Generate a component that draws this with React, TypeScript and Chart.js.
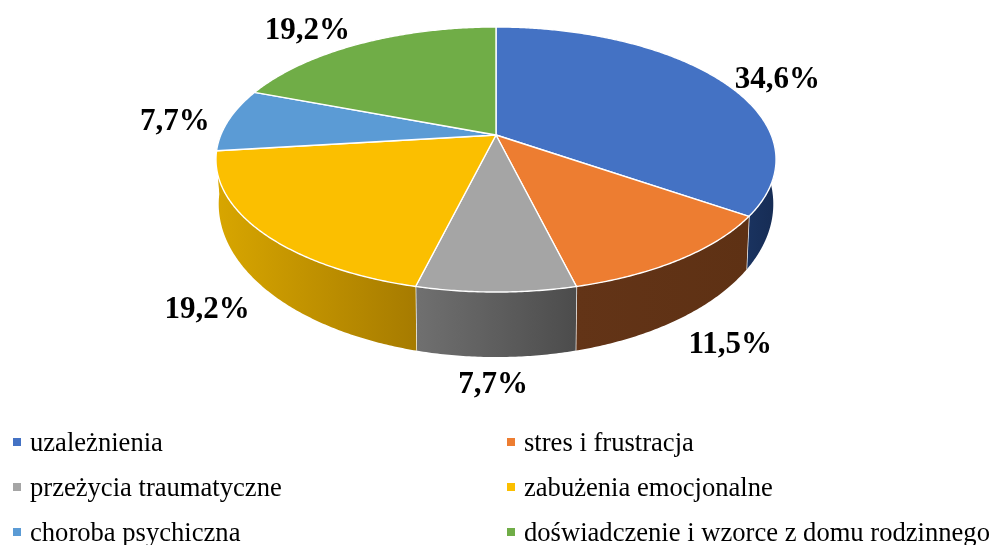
import { useEffect, useRef } from "react";
import { Chart, registerables } from "chart.js";

Chart.register(...registerables);

const categories = [
  "uzależnienia",
  "stres i frustracja",
  "przeżycia traumatyczne",
  "zabużenia emocjonalne",
  "choroba psychiczna",
  "doświadczenie i wzorce z domu rodzinnego",
];
const shares = [34.6, 11.5, 7.7, 19.2, 7.7, 19.2];
const shareLabels = ["34,6%", "11,5%", "7,7%", "19,2%", "7,7%", "19,2%"];
const topColors = ["#4472C4", "#ED7D31", "#A5A5A5", "#FBBF00", "#5B9BD5", "#70AD47"];
const wallLeftColors = ["#1A3360", "#633417", "#707070", "#D8A600", "#D8A600", "#44692A"];
const wallRightColors = ["#162C54", "#5E3114", "#4C4C4C", "#A67B00", "#D8A600", "#44692A"];
const labelOffsets = [
  [57, 0],
  [50, 86],
  [-3, 93],
  [-54, 78],
  [-54, 2],
  [-53, -13],
];

// perspective of the tilted disc
const APEX_X = 496;
const APEX_Y = 135;
const SCALE_X = 275.2;
const SCALE_Y = 128;
const BASE_APEX_Y = 175.7;
const BASE_SCALE_X = 272.5;
const BASE_SCALE_Y = 147.8;
const PERSPECTIVE = 0.185;

const project = (angle: number) => {
  const X = Math.cos(angle);
  const Y = Math.sin(angle);
  const d = 1 - PERSPECTIVE * Y;
  return { x: APEX_X + (SCALE_X * X) / d, y: APEX_Y + (SCALE_Y * Y) / d };
};
const projectBase = (angle: number) => {
  const X = Math.cos(angle);
  const Y = Math.sin(angle);
  const d = 1 - PERSPECTIVE * Y;
  return { x: APEX_X + (BASE_SCALE_X * X) / d, y: BASE_APEX_Y + (BASE_SCALE_Y * Y) / d };
};

const perspectivePie = {
  id: "perspectivePie",
  beforeDatasetsDraw(chart: any) {
    const ctx = chart.ctx as CanvasRenderingContext2D;
    const arcs = chart.getDatasetMeta(0).data as any[];
    const STEP = Math.PI / 360;
    ctx.save();
    ctx.lineJoin = "round";

    arcs.forEach((arc, i) => {
      const p = arc.getProps(["startAngle", "endAngle"], true);
      const s = Math.max(p.startAngle, 0);
      const e = Math.min(p.endAngle, Math.PI);
      if (e <= s) return;
      const top: any[] = [];
      const bottom: any[] = [];
      for (let a = s; a < e; a += STEP) {
        top.push(project(a));
        bottom.push(projectBase(a));
      }
      top.push(project(e));
      bottom.push(projectBase(e));
      const xs = [...top, ...bottom].map((q) => q.x);
      const g = ctx.createLinearGradient(Math.min(...xs), 0, Math.max(...xs), 0);
      g.addColorStop(0, wallLeftColors[i]);
      g.addColorStop(1, wallRightColors[i]);
      ctx.beginPath();
      top.forEach((q, k) => (k ? ctx.lineTo(q.x, q.y) : ctx.moveTo(q.x, q.y)));
      bottom.reverse().forEach((q) => ctx.lineTo(q.x, q.y));
      ctx.closePath();
      ctx.fillStyle = g;
      ctx.fill();
      ctx.strokeStyle = "#FFFFFF";
      ctx.lineWidth = 1.4;
      if (Math.sin(p.endAngle) > 0.3) {
        const a = project(p.endAngle);
        const b = projectBase(p.endAngle);
        ctx.beginPath();
        ctx.moveTo(a.x, a.y);
        ctx.lineTo(b.x, b.y);
        ctx.stroke();
      }
    });

    arcs.forEach((arc, i) => {
      const p = arc.getProps(["startAngle", "endAngle"], true);
      ctx.beginPath();
      ctx.moveTo(APEX_X, APEX_Y);
      for (let a = p.startAngle; a < p.endAngle; a += STEP) {
        const q = project(a);
        ctx.lineTo(q.x, q.y);
      }
      const q = project(p.endAngle);
      ctx.lineTo(q.x, q.y);
      ctx.closePath();
      ctx.fillStyle = topColors[i];
      ctx.fill();
      ctx.strokeStyle = "#FFFFFF";
      ctx.lineWidth = 1.4;
      ctx.stroke();
    });

    ctx.fillStyle = "#000000";
    ctx.font = 'bold 31px "Liberation Serif"';
    ctx.textAlign = "center";
    ctx.textBaseline = "middle";
    arcs.forEach((arc, i) => {
      const p = arc.getProps(["startAngle", "endAngle"], true);
      const q = project((p.startAngle + p.endAngle) / 2);
      ctx.fillText(shareLabels[i], q.x + labelOffsets[i][0], q.y + labelOffsets[i][1]);
    });

    ctx.font = '26.6px "Liberation Serif"';
    ctx.textAlign = "left";
    ctx.textBaseline = "alphabetic";
    categories.forEach((name, i) => {
      const col = i % 2;
      const row = Math.floor(i / 2);
      const x = col ? 507 : 13;
      const y = 451 + row * 45;
      ctx.fillStyle = topColors[i];
      ctx.fillRect(x, y - 13, 8, 8);
      ctx.fillStyle = "#000000";
      ctx.fillText(name, x + 17, y);
    });
    ctx.restore();
    return false;
  },
};

export default function App() {
  const ref = useRef<HTMLCanvasElement>(null);
  useEffect(() => {
    document.body.style.margin = "0";
    const chart = new Chart(ref.current!, {
      type: "pie",
      data: {
        labels: categories,
        datasets: [{ data: shares, backgroundColor: topColors }],
      },
      options: {
        responsive: false,
        animation: false,
        plugins: { legend: { display: false }, tooltip: { enabled: false } },
      },
      plugins: [perspectivePie],
    });
    return () => chart.destroy();
  }, []);
  return (
    <canvas
      ref={ref}
      width={994}
      height={545}
      style={{ position: "absolute", left: 0, top: 0, width: 994, height: 545, background: "#FFFFFF", filter: "blur(0.5px)" }}
    />
  );
}
